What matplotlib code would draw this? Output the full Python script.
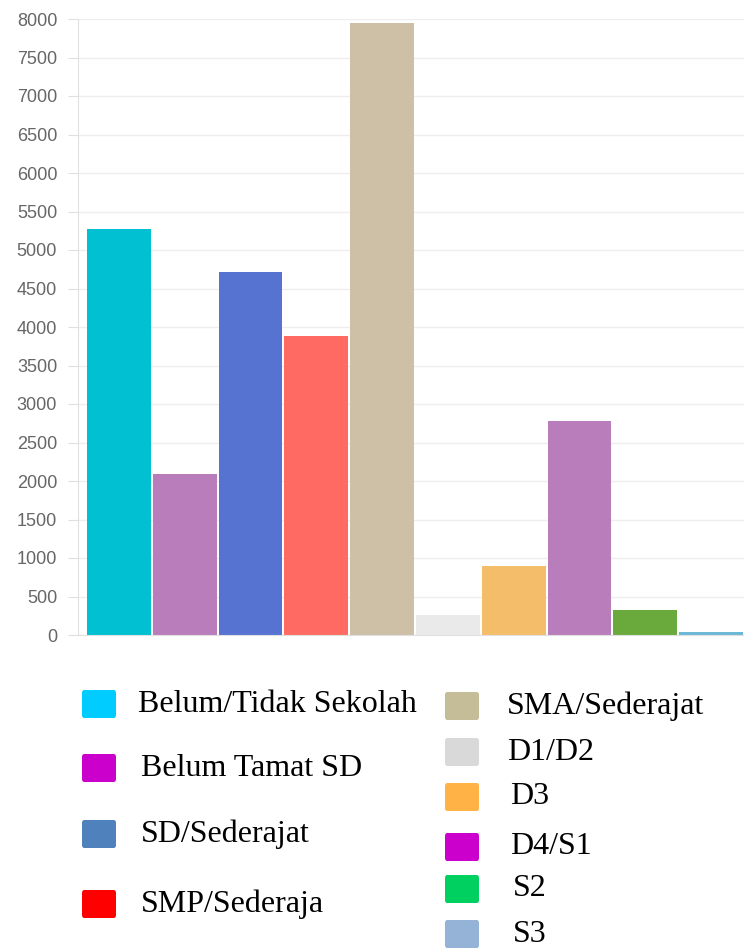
import matplotlib.pyplot as plt
from matplotlib.patches import FancyBboxPatch

categories = ["Belum/Tidak Sekolah", "Belum Tamat SD", "SD/Sederajat", "SMP/Sederaja",
              "SMA/Sederajat", "D1/D2", "D3", "D4/S1", "S2", "S3"]
values = [5270, 2090, 4710, 3880, 7950, 255, 895, 2775, 325, 40]
bar_colors = ["#00c0d2", "#b97dbb", "#5673d2", "#ff6b63", "#cec0a6",
              "#eaeaea", "#f4bd6a", "#b97dbb", "#6aaa3c", "#6bb7d6"]
legend_colors = ["#00ccff", "#cc00cc", "#4f81bd", "#ff0000", "#c4bd97",
                 "#d9d9d9", "#ffb347", "#cc00cc", "#00d060", "#95b3d7"]
yticks = list(range(0, 8001, 500))

fig = plt.figure(figsize=(7.44, 9.49), dpi=100)
ax = fig.add_axes([78 / 744, 314 / 949, 666 / 744, 616 / 949])

x = list(range(len(categories)))
ax.bar(x, values, width=0.97, color=bar_colors, zorder=2)

ax.set_xlim(-0.62, 9.5)
ax.set_ylim(0, 8000)
ax.set_yticks(yticks)
ax.set_xticks([])
ax.yaxis.grid(True, color="#eeeeee", linewidth=1, zorder=0)
ax.tick_params(axis="y", length=7, color="#e0e0e0", pad=8,
               labelsize=13, labelcolor="#666666")
for lbl in ax.get_yticklabels():
    lbl.set_family("Liberation Sans")
for side in ["top", "right"]:
    ax.spines[side].set_visible(False)
for side in ["left", "bottom"]:
    ax.spines[side].set_color("#e0e0e0")

# legend drawn by hand, two columns like the source
W, H = 744, 949
box_x = [82, 82, 82, 82, 445, 445, 445, 445, 445, 445]
text_x = [138, 141, 141, 141, 507, 507, 510, 510, 513, 513]
row_y = [704, 768, 834, 904, 706, 752, 797, 847, 889, 934]
for bx, tx, py, lab, col in zip(box_x, text_x, row_y, categories, legend_colors):
    box = FancyBboxPatch((bx / W, (H - py - 14) / H), 34 / W, 28 / H,
                         boxstyle="round,pad=0,rounding_size=0.003",
                         transform=fig.transFigure, facecolor=col,
                         edgecolor="none")
    fig.patches.append(box)
    fig.text(tx / W, (H - py) / H, lab, fontsize=23, family="Liberation Serif",
             va="center", ha="left", color="black")

fig.savefig("out.png", dpi=100)
